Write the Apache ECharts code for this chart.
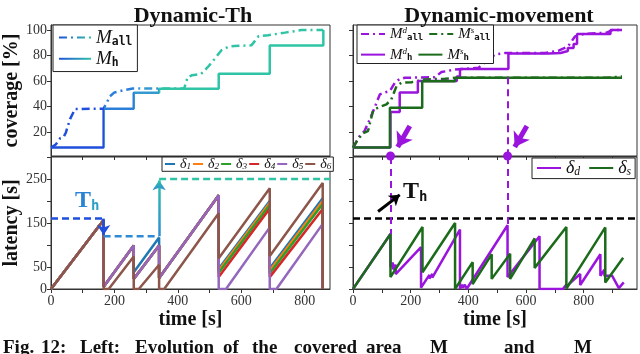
<!DOCTYPE html>
<html>
<head>
<meta charset="utf-8">
<script src="https://cdn.jsdelivr.net/npm/echarts@6/dist/echarts.min.js"></script>
<style>
html,body{margin:0;padding:0;background:#fff;}
#chart{width:640px;height:354px;}
</style>
</head>
<body>
<div id="chart"></div>
<script>
// ---------- data (time [s], value) ----------
// top-left: coverage, Dynamic-Th
var mallLeft = [[0,7.6],[15,10],[29,15],[40,16],[47,19.5],[60,30],[76,38],[166,38.2],[176,43],[186,48],[200,51],[235,53],[258,54],[420,54],[431,63],[445,64.5],[473,65.5],[495,71],[515,77],[537,84],[560,87],[579,87.5],[632,88],[645,92],[655,95.3],[685,96],[738,98],[790,100],[859,100]];
var mhLeft = [[0,7.6],[166,38.2],[261,50.7],[341,53.9],[529,65.6],[690,87.8],[859,100]];
var covColorTimes = [166, 261, 341];

// top-right: coverage, Dynamic-movement
var mallD = [[0,7.6],[23,16.7],[40,20.6],[58,29.8],[75,39],[93,49.4],[110,51],[128,52],[145,58.6],[162,61.5],[180,62.5],[284,63],[307,67],[354,69],[435,70.3],[470,77],[493,80.8],[528,82],[667,82],[715,84],[745,87],[770,95],[800,97],[880,98],[899,100],[933,100]];
var mallS = [[0,7.6],[17,14],[35,19],[52,20.6],[70,37],[87,39],[116,41.6],[133,45.5],[151,56],[168,58.6],[203,59],[249,61.2],[319,61.7],[354,62.5],[880,62.5],[933,63.5]];
var mhD = [[0,7.6],[130,35.5],[162,51],[225,60],[360,63.5],[371,69.5],[539,81.5],[680,82],[720,83.5],[745,86],[765,89],[777,97],[893,100],[933,100]];
var mhS = [[0,7.6],[128,39],[240,59.8],[354,62.5],[933,62.5]];

// bottom-left: latency of each drone
var delta1 = [[0,0],[166,157],[166,5],[261,99],[261,38],[341,117],[341,25],[529,213],[529,46],[690,200],[690,47],[857,206],[857,0]];
var delta2 = [[0,0],[166,157],[166,5],[261,99],[261,23],[341,99],[341,25],[529,213],[529,42],[690,196],[690,42],[857,200],[857,0]];
var delta3 = [[0,0],[166,157],[166,5],[261,99],[261,23],[341,99],[341,25],[529,213],[529,37],[690,191],[690,36],[857,193],[857,0]];
var delta4 = [[0,0],[166,157],[166,5],[261,99],[261,23],[341,99],[341,25],[529,213],[529,27],[690,183],[690,27],[857,182],[857,0]];
var delta5 = [[0,0],[166,157],[166,5],[261,99],[261,23],[341,99],[341,25],[529,213],[529,0],[552,0],[690,140],[690,0],[711,0],[857,148],[857,0]];
var delta6 = [[0,0],[166,157],[166,0],[182,0],[261,74],[261,0],[277,0],[341,55],[341,0],[357,0],[529,172],[529,70],[690,229],[690,75],[857,241],[857,0]];
var thrTimes = [0, 166, 341];
var thrValues = [160, 120, 250];

// bottom-right: latency of the two strategies
var deltaD = [[0,0],[130,125],[130,50],[138,60],[138,45],[148,55],[148,34],[236,95],[236,3],[265,32],[265,24],[275,34],[275,26],[371,135],[371,0],[378,10],[381,3],[388,10],[394,0],[536,145],[536,27],[647,120],[647,0],[728,0],[740,10],[743,5],[750,12],[788,34],[788,9],[858,79],[858,30],[872,44],[872,30],[899,30],[922,2],[939,15]];
var deltaS = [[0,0],[130,125],[130,27],[241,141],[241,38],[354,150],[354,0],[415,61],[415,11],[481,79],[481,23],[545,80],[545,23],[630,115],[630,48],[740,141],[740,1],[875,140],[875,15],[937,71]];
var thrRight = 160;
var eventTimes = [130, 536];
var eventPeaks = [125, 145];
var eventLevels = [39, 63];

// caption (cut off at the bottom of the picture)
var captionWords = ['Fig.', '12:', 'Left:', 'Evolution', 'of', 'the', 'covered', 'area', 'M', 'and', 'M'];
var captionX = [3, 41, 80, 135, 223, 252, 294, 366, 430, 504, 574];

// ---------- style ----------
var FONT = 'Liberation Serif';
var MONO = 'DejaVu Sans Mono';
var covColors = ['#1f4fdc', '#2b7fd8', '#3399d0', '#2ec4a5'];
var thColors = ['#1f4fdc', '#2f8ad6', '#2ec4a5'];
var purple = '#9a14dd';
var green = '#1b6b1b';
var tab = ['#1f77b4', '#ff7f0e', '#2ca02c', '#d62728', '#9467bd', '#8c564b'];
var dashDot = [8, 4, 2, 4];
var xMaxL = 880, xMaxR = 985;
var yCovMin = 1, yCovMax = 104;

var gradH = new echarts.graphic.LinearGradient(0, 0, 1, 0, [{offset:0,color:covColors[0]},{offset:1,color:covColors[3]}]);
var gradV = new echarts.graphic.LinearGradient(0, 1, 0, 0, [{offset:0,color:thColors[1]},{offset:1,color:thColors[2]}]);

function axisX(grid, max, labels) {
    var ticks = [];
    for (var t = 0; t <= max; t += 100) ticks.push(t);
    return {
        type: 'value', gridIndex: grid, min: 0, max: max,
        axisLine: {show: true, lineStyle: {color: '#333'}},
        axisTick: {show: true, length: 4, customValues: ticks, lineStyle: {color: '#333'}},
        axisLabel: {show: labels, customValues: [0,200,400,600,800], fontFamily: FONT, fontSize: 14, color: '#333', margin: 5},
        splitLine: {show: false},
        name: labels ? 'time [s]' : '', nameLocation: 'middle', nameGap: 21,
        nameTextStyle: {fontFamily: FONT, fontWeight: 'bold', fontSize: 20, color: '#111'}
    };
}
function axisY(grid, min, max, ticks, labels, showLabels, name) {
    return {
        type: 'value', gridIndex: grid, min: min, max: max,
        axisLine: {show: true, lineStyle: {color: '#333'}},
        axisTick: {show: true, length: 4, customValues: ticks, lineStyle: {color: '#333'}},
        axisLabel: {show: showLabels, customValues: labels, fontFamily: FONT, fontSize: 14, color: '#333', margin: 4},
        splitLine: {show: false},
        name: name, nameLocation: 'middle', nameGap: 24,
        nameTextStyle: {fontFamily: FONT, fontWeight: 'bold', fontSize: 20, color: '#111'}
    };
}
function line(name, x, y, data, color, extra) {
    var s = {
        name: name, type: 'line', xAxisIndex: x, yAxisIndex: y, data: data,
        symbol: 'none', animation: false, lineStyle: {width: 2.5, color: color}, itemStyle: {color: color}
    };
    for (var k in extra) s[k] = extra[k];
    return s;
}

var series = [];
// 0,1 top-left
series.push(line('Mall', 0, 0, mallLeft, null, {lineStyle: {width: 2.5, type: dashDot}}));
series.push(line('Mh', 0, 0, mhLeft, null, {step: 'end', lineStyle: {width: 2.5}}));
// top-right
series.push(line('MallD', 1, 1, mallD, purple, {lineStyle: {width: 2.5, type: dashDot, color: purple}}));
series.push(line('MallS', 1, 1, mallS, green, {lineStyle: {width: 2.5, type: dashDot, color: green}}));
series.push(line('MhD', 1, 1, mhD, purple, {step: 'end',
    markLine: {silent: true, symbol: ['none', 'none'], label: {show: false},
        lineStyle: {color: purple, width: 2, type: [7, 5]},
        data: [[{coord: [eventTimes[1], eventLevels[1]]}, {coord: [eventTimes[1], yCovMin]}]]},
    markPoint: {silent: true, symbol: 'circle', symbolSize: 9, itemStyle: {color: purple}, label: {show: false},
        data: eventTimes.map(function (t) { return {coord: [t, yCovMin]}; })}
}));
series.push(line('MhS', 1, 1, mhS, green, {step: 'end'}));
// purple arrows pointing at the events
series.push({type: 'line', xAxisIndex: 1, yAxisIndex: 1, data: [], animation: false,
    markLine: {silent: true, symbol: ['none', 'arrow'], symbolSize: 14, label: {show: false},
        lineStyle: {color: purple, width: 5, type: 'solid'},
        data: eventTimes.map(function (t) { return [{coord: [t + 67, 24.5]}, {coord: [t + 25, 8]}]; })}
});
// bottom-left deltas
var deltas = [delta1, delta2, delta3, delta4, delta5, delta6];
var dNames = ['d1', 'd2', 'd3', 'd4', 'd5', 'd6'];
deltas.forEach(function (d, i) { series.push(line(dNames[i], 2, 2, d, tab[i], {})); });
// threshold steps (left)
thrTimes.forEach(function (t, i) {
    var tEnd = i + 1 < thrTimes.length ? thrTimes[i + 1] : xMaxL;
    var s = line('th' + i, 2, 2, [[t, thrValues[i]], [tEnd, thrValues[i]]], thColors[i], {lineStyle: {width: 2.5, type: [7, 4], color: thColors[i]}});
    if (i + 1 < thrTimes.length) {
        var up = thrValues[i + 1] > thrValues[i];
        s.markLine = {silent: true, symbol: ['none', 'arrow'], symbolSize: 10, label: {show: false},
            lineStyle: {color: up ? gradV : thColors[i], width: 2.5, type: 'solid'},
            data: [[{coord: [tEnd, thrValues[i]]}, {coord: [tEnd, thrValues[i + 1] + (up ? -3 : 3)]}]]};
    }
    if (i === 0) {
        s.markPoint = {silent: true, symbol: 'circle', symbolSize: 0,
            label: {show: true, position: 'inside', formatter: '{t|T}{h|h}',
                rich: {t: {fontFamily: FONT, fontWeight: 'bold', fontSize: 24, color: '#2a82d4'},
                       h: {fontFamily: MONO, fontWeight: 'bold', fontSize: 14, color: '#2ea0c6', padding: [10, 0, 0, 0]}}},
            data: [{coord: [114, 200]}]};
    }
    series.push(s);
});
// bottom-right
series.push(line('dd', 3, 3, deltaD, purple, {
    markLine: {silent: true, symbol: ['none', 'none'], label: {show: false},
        lineStyle: {color: purple, width: 2, type: [7, 5]},
        data: eventTimes.map(function (t, i) { return [{coord: [t, 300]}, {coord: [t, eventPeaks[i]]}]; })}
}));
series.push(line('ds', 3, 3, deltaS, green, {}));
series.push(line('thR', 3, 3, [[0, thrRight], [xMaxR, thrRight]], '#000', {
    lineStyle: {width: 2.5, type: [7, 4], color: '#000'},
    markLine: {silent: true, symbol: ['none', 'arrow'], symbolSize: 10, label: {show: false},
        lineStyle: {color: '#000', width: 3, type: 'solid', curveness: 0.45},
        data: [[{coord: [87, 176]}, {coord: [162, 214]}]]},
    markPoint: {silent: true, symbol: 'circle', symbolSize: 0,
        label: {show: true, position: 'inside', formatter: '{t|T}{h|h}',
            rich: {t: {fontFamily: FONT, fontWeight: 'bold', fontSize: 24, color: '#111'},
                   h: {fontFamily: MONO, fontWeight: 'bold', fontSize: 14, color: '#111', padding: [10, 0, 0, 0]}}},
        data: [{coord: [216, 220]}]}
}));

var legendNames = {
    Mall: '{m|M}{s|all}', Mh: '{m|M}{s|h}',
    MallD: '{m|M}{p|d}{s|all}', MallS: '{m|M}{p|s}{s|all}', MhD: '{m|M}{p|d}{s|h}', MhS: '{m|M}{p|s}{s|h}',
    d1: '{m|δ}{n|1}', d2: '{m|δ}{n|2}', d3: '{m|δ}{n|3}', d4: '{m|δ}{n|4}', d5: '{m|δ}{n|5}', d6: '{m|δ}{n|6}',
    dd: '{m|δ}{n|d}', ds: '{m|δ}{n|s}'
};
function legendText(size) {
    return {
        color: '#111',
        rich: {
            m: {fontFamily: FONT, fontStyle: 'italic', fontSize: size, color: '#111'},
            s: {fontFamily: MONO, fontWeight: 'bold', fontSize: size * 0.6, color: '#111', padding: [size * 0.45, 0, 0, 0]},
            p: {fontFamily: FONT, fontStyle: 'italic', fontSize: size * 0.6, color: '#111', padding: [0, 0, size * 0.45, 0]},
            n: {fontFamily: FONT, fontStyle: 'italic', fontSize: size * 0.65, color: '#111', padding: [size * 0.4, 0, 0, 0]}
        }
    };
}
function legendBox(extra) {
    var l = {
        formatter: function (n) { return legendNames[n]; },
        borderColor: '#222', borderWidth: 1, borderRadius: 0, backgroundColor: '#fff',
        selectedMode: false, itemStyle: {opacity: 0}
    };
    for (var k in extra) l[k] = extra[k];
    return l;
}

var option = {
    animation: false,
    backgroundColor: '#fff',
    title: [
        {text: 'Dynamic-Th', left: 188, top: 0, textAlign: 'center', textStyle: {fontFamily: FONT, fontWeight: 'bold', fontSize: 22, color: '#111'}},
        {text: 'Dynamic-movement', left: 494, top: 0, textAlign: 'center', textStyle: {fontFamily: FONT, fontWeight: 'bold', fontSize: 22, color: '#111'}}
    ],
    grid: [
        {left: 51, top: 25, width: 279, height: 131, show: true, borderColor: '#333', borderWidth: 1},
        {left: 353, top: 25, width: 284, height: 131, show: true, borderColor: '#333', borderWidth: 1},
        {left: 51, top: 157, width: 279, height: 132, show: true, borderColor: '#333', borderWidth: 1},
        {left: 353, top: 157, width: 284, height: 132, show: true, borderColor: '#333', borderWidth: 1}
    ],
    xAxis: [axisX(0, xMaxL, false), axisX(1, xMaxR, false), axisX(2, xMaxL, true), axisX(3, xMaxR, true)],
    yAxis: [
        axisY(0, yCovMin, yCovMax, [20, 40, 60, 80, 100], [20, 40, 60, 80, 100], true, 'coverage [%]'),
        axisY(1, yCovMin, yCovMax, [20, 40, 60, 80, 100], [20, 40, 60, 80, 100], false, ''),
        axisY(2, 0, 300, [0, 50, 100, 150, 200, 250, 300], [0, 50, 150, 250], true, 'latency [s]'),
        axisY(3, 0, 300, [0, 50, 100, 150, 200, 250, 300], [0, 50, 150, 250], false, '')
    ],
    visualMap: [{
        type: 'piecewise', show: false, dimension: 0, seriesIndex: [0, 1],
        pieces: [
            {lt: covColorTimes[0], color: covColors[0]},
            {gte: covColorTimes[0], lt: covColorTimes[1], color: covColors[1]},
            {gte: covColorTimes[1], lt: covColorTimes[2], color: covColors[2]},
            {gte: covColorTimes[2], color: covColors[3]}
        ]
    }],
    legend: [
        legendBox({orient: 'vertical', left: 53, top: 25, padding: [3, 5, 3, 5], itemGap: 2, itemWidth: 32, itemHeight: 14,
            data: [{name: 'Mall', lineStyle: {color: gradH}, itemStyle: {opacity: 0}}, {name: 'Mh', lineStyle: {color: gradH}, itemStyle: {opacity: 0}}],
            textStyle: legendText(19)}),
        legendBox({orient: 'horizontal', left: 357, top: 25, width: 134, padding: [1, 3, 1, 3], itemGap: 5, itemWidth: 24, itemHeight: 14,
            data: ['MallD', 'MallS', 'MhD', 'MhS'], textStyle: legendText(15)}),
        legendBox({orient: 'horizontal', left: 162, top: 157, padding: [0, 2, 0, 2], itemGap: 1, itemWidth: 10, itemHeight: 12,
            data: dNames, textStyle: legendText(14)}),
        legendBox({orient: 'horizontal', left: 532, top: 158, padding: [1, 4, 1, 4], itemGap: 8, itemWidth: 24, itemHeight: 14,
            data: ['dd', 'ds'], textStyle: legendText(18)})
    ],
    graphic: captionWords.map(function (w, i) {
        return {type: 'text', left: captionX[i], top: 339,
            style: {text: w, fontFamily: FONT, fontWeight: 'bold', fontSize: 19, fill: '#111'}};
    }),
    series: series
};

var chart = echarts.init(document.getElementById('chart'));
chart.setOption(option);
</script>
</body>
</html>
